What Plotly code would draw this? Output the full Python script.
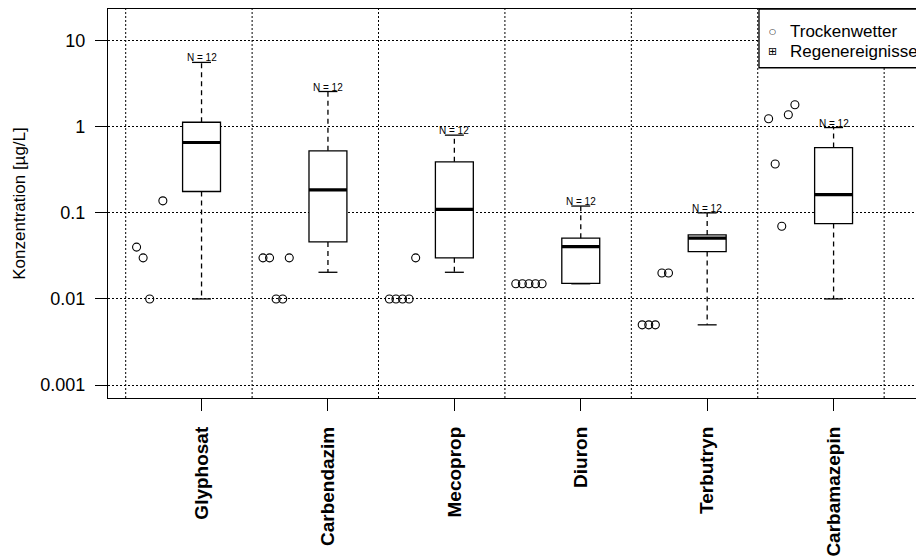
import math
import plotly.graph_objects as go

# ---------------- data ----------------
categories = ["Glyphosat", "Carbendazim", "Mecoprop", "Diuron", "Terbutryn", "Carbamazepin"]

# Regenereignisse (boxplot statistics, µg/L)
rain_min = [0.01, 0.0204, 0.0204, 0.015, 0.005, 0.01]
rain_q1 = [0.177, 0.046, 0.030, 0.0152, 0.0355, 0.075]
rain_median = [0.657, 0.185, 0.110, 0.0405, 0.0508, 0.163]
rain_q3 = [1.13, 0.526, 0.392, 0.0508, 0.0554, 0.574]
rain_max = [5.6, 2.57, 0.80, 0.12, 0.10, 0.98]
rain_n = [12, 12, 12, 12, 12, 12]

# Trockenwetter (single samples, µg/L; None = no value)
dry_glyphosat = [0.04, 0.03, 0.01, None, 0.138]
dry_carbendazim = [0.03, 0.03, 0.01, 0.01, 0.03]
dry_mecoprop = [0.01, 0.01, 0.01, 0.01, 0.03]
dry_diuron = [0.015, 0.015, 0.015, 0.015, 0.015]
dry_terbutryn = [0.005, 0.005, 0.005, 0.02, 0.02]
dry_carbamazepin = [1.24, 0.37, 0.07, 1.38, 1.80]
dry_values = [dry_glyphosat, dry_carbendazim, dry_mecoprop,
              dry_diuron, dry_terbutryn, dry_carbamazepin]

y_tickvals = [0.001, 0.01, 0.1, 1, 10]
y_ticktext = ["0.001", "0.01", "0.1", "1", "10"]

# ---------------- style ----------------
FONT = "Liberation Sans, Arial, sans-serif"
BOX_W = 0.30
CAP_W = 0.15
DRY_OFFSET = -0.41
DRY_STEP = 0.052
LW = 1.3
GRID_DASH = "2px,2px"

fig = go.Figure()
xpos = list(range(len(categories)))

# box bodies
fig.add_trace(go.Box(
    x=xpos, q1=rain_q1, median=rain_median, q3=rain_q3,
    lowerfence=rain_q1, upperfence=rain_q3,
    width=BOX_W, whiskerwidth=0,
    fillcolor="white", line=dict(color="black", width=LW),
    boxpoints=False, hoverinfo="skip", showlegend=False,
))

# dashed whiskers
wx, wy = [], []
for i in xpos:
    wx += [i, i, None, i, i, None]
    wy += [rain_q3[i], rain_max[i], None, rain_q1[i], rain_min[i], None]
fig.add_trace(go.Scatter(x=wx, y=wy, mode="lines",
                         line=dict(color="black", width=LW, dash="5px,4px"),
                         hoverinfo="skip", showlegend=False))

# whisker caps
cx, cy = [], []
for i in xpos:
    for v in (rain_max[i], rain_min[i]):
        cx += [i - CAP_W / 2, i + CAP_W / 2, None]
        cy += [v, v, None]
fig.add_trace(go.Scatter(x=cx, y=cy, mode="lines",
                         line=dict(color="black", width=LW),
                         hoverinfo="skip", showlegend=False))

# thick medians
mx, my = [], []
for i in xpos:
    mx += [i - BOX_W / 2, i + BOX_W / 2, None]
    my += [rain_median[i], rain_median[i], None]
fig.add_trace(go.Scatter(x=mx, y=my, mode="lines",
                         line=dict(color="black", width=3.2),
                         hoverinfo="skip", showlegend=False))

# dry weather points
px, py = [], []
for i, vals in enumerate(dry_values):
    for j, v in enumerate(vals):
        if v is None:
            continue
        px.append(i + DRY_OFFSET + DRY_STEP * (j - 2))
        py.append(v)
fig.add_trace(go.Scatter(x=px, y=py, mode="markers",
                         marker=dict(symbol="circle-open", size=8, color="black",
                                     line=dict(width=1.1, color="black")),
                         name="Trockenwetter", showlegend=False))

# N labels
for i in xpos:
    fig.add_annotation(x=i, y=math.log10(rain_max[i]), xref="x", yref="y",
                       text=f"N = {rain_n[i]}", showarrow=False,
                       yanchor="bottom", yshift=-3,
                       font=dict(family=FONT, size=10, color="black"))

# vertical dotted grid lines (between categories)
for g in range(-1, len(categories)):
    fig.add_shape(type="line", xref="x", yref="paper",
                  x0=g + 0.4, x1=g + 0.4, y0=0, y1=1, layer="below",
                  line=dict(color="black", width=1, dash=GRID_DASH))

# legend box (drawn manually, extends past the right edge)
fig.add_shape(type="rect", xref="paper", yref="paper",
              x0=0.8057, x1=1.2, y0=0.849, y1=1.0, layer="above",
              fillcolor="white", line=dict(color="black", width=LW))
fig.add_annotation(xref="paper", yref="paper", x=0.823, y=0.941,
                   text="○", showarrow=False, xanchor="center", yanchor="middle",
                   font=dict(family="DejaVu Sans", size=8, color="black"))
fig.add_annotation(xref="paper", yref="paper", x=0.823, y=0.891,
                   text="⊞", showarrow=False, xanchor="center", yanchor="middle",
                   font=dict(family="DejaVu Sans", size=11, color="black"))
fig.add_annotation(xref="paper", yref="paper", x=0.842, y=0.941,
                   text="Trockenwetter", showarrow=False, xanchor="left", yanchor="middle",
                   font=dict(family=FONT, size=17, color="black"))
fig.add_annotation(xref="paper", yref="paper", x=0.842, y=0.891,
                   text="Regenereignisse", showarrow=False, xanchor="left", yanchor="middle",
                   font=dict(family=FONT, size=17, color="black"))

fig.update_layout(
    width=916, height=560,
    margin=dict(l=108, r=0, t=9, b=162, pad=0),
    plot_bgcolor="white", paper_bgcolor="white",
    showlegend=False,
    font=dict(family=FONT, color="black"),
)
fig.update_xaxes(
    range=[-0.740, 5.652], tickmode="array", tickvals=xpos,
    ticktext=[f"<b>{c}</b>" for c in categories],
    tickangle=-90, ticks="outside", ticklen=12, tickwidth=LW, tickcolor="black",
    tickfont=dict(family=FONT, size=19, color="black"),
    ticklabelstandoff=8,
    showgrid=False, zeroline=False,
    showline=True, mirror=True, linecolor="black", linewidth=LW,
    automargin=False,
)
fig.update_yaxes(
    type="log", range=[-3.151, 1.3686],
    tickmode="array", tickvals=y_tickvals, ticktext=y_ticktext,
    ticks="outside", ticklen=12, tickwidth=LW, tickcolor="black",
    tickfont=dict(family=FONT, size=18, color="black"),
    ticklabelstandoff=6,
    showgrid=True, gridcolor="black", gridwidth=1, griddash=GRID_DASH,
    zeroline=False, showline=True, mirror=False, linecolor="black", linewidth=LW,
    title=dict(text="Konzentration [µg/L]", standoff=10,
               font=dict(family=FONT, size=17, color="black")),
    automargin=False,
)

# remove the browser's default 8px body margin so the figure fills the window exactly
fig.write_html(
    "out.html",
    config={"displayModeBar": False},
    post_script="document.body.style.margin='0';document.body.style.overflow='hidden';",
)
